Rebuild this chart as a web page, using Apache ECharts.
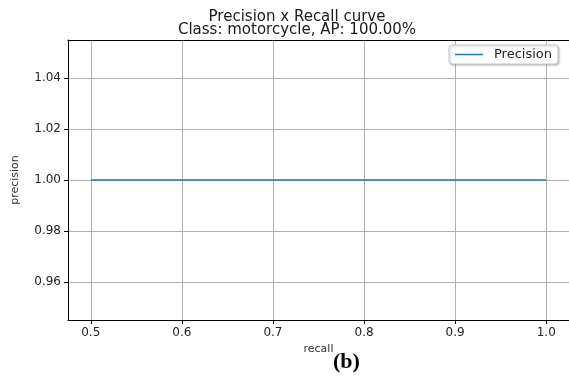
<!DOCTYPE html>
<html><head><meta charset="utf-8">
<script src="https://cdn.jsdelivr.net/npm/echarts@6/dist/echarts.min.js"></script>
<style>html,body{margin:0;padding:0;background:#fff;}#c{width:569px;height:381px;}</style>
</head><body><div id="c"></div>
<script>
const recall = [0.5, 1.0];
const precision = [1.0, 1.0];
const xTicks = [0.5, 0.6, 0.7, 0.8, 0.9, 1.0];
const yTicks = [0.96, 0.98, 1.00, 1.02, 1.04];
const seriesName = 'Precision';
const titleText = 'Precision x Recall curve\nClass: motorcycle, AP: 100.00%';
const xName = 'recall';
const yName = 'precision';
const caption = '(b)';

const chart = echarts.init(document.getElementById('c'), null, {renderer: 'canvas'});
const font = 'DejaVu Sans';
const tickColor = '#222';
const lineColor = '#1f77b4';
const axisCommon = {
  axisLine: {show: true, onZero: false, lineStyle: {color: '#000', width: 1}},
  splitLine: {show: true, lineStyle: {color: '#b0b0b0', width: 1}}
};
chart.setOption({
  animation: false,
  backgroundColor: '#fff',
  title: {
    text: titleText, left: 292, top: 6, textAlign: 'center',
    textStyle: {fontFamily: font, fontSize: 15, fontWeight: 'normal', lineHeight: 13, color: '#1a1a1a'}
  },
  grid: {left: 68, top: 40, width: 503, height: 280},
  legend: {
    data: [{name: seriesName, icon: 'rect', itemStyle: {color: lineColor}}], right: 11, top: 45, orient: 'vertical',
    backgroundColor: '#fff', borderColor: '#ccc', borderWidth: 1, borderRadius: 3,
    padding: [3, 6, 3, 6], itemWidth: 28, itemHeight: 1.5, itemGap: 4,
    shadowColor: 'rgba(0,0,0,0.25)', shadowBlur: 2, shadowOffsetX: 1, shadowOffsetY: 1,
    textStyle: {fontFamily: font, fontSize: 13, color: '#222', padding: [0, 0, 0, 6]}
  },
  xAxis: [{
    type: 'value', min: 0.475, max: 1.025,
    name: xName, nameLocation: 'middle', nameGap: 23,
    nameTextStyle: {fontFamily: font, fontSize: 11, color: '#333'},
    axisLine: axisCommon.axisLine,
    axisTick: {show: true, length: 4, customValues: xTicks, lineStyle: {color: '#000'}},
    axisLabel: {customValues: xTicks, fontFamily: font, fontSize: 12, color: tickColor, margin: 7,
      formatter: v => v.toFixed(1)},
    splitLine: axisCommon.splitLine
  }, {
    type: 'value', min: 0.475, max: 1.025, position: 'top',
    axisLine: {show: true, onZero: false, lineStyle: {color: '#000', width: 1}},
    axisTick: {show: false}, axisLabel: {show: false}, splitLine: {show: false}
  }],
  yAxis: {
    type: 'value', min: 0.945, max: 1.055,
    name: yName, nameLocation: 'middle', nameGap: 47, nameRotate: 90,
    nameTextStyle: {fontFamily: font, fontSize: 11, color: '#333'},
    axisLine: axisCommon.axisLine,
    axisTick: {show: true, length: 4, customValues: yTicks, lineStyle: {color: '#000'}},
    axisLabel: {customValues: yTicks, fontFamily: font, fontSize: 12, color: tickColor, margin: 7,
      formatter: v => v.toFixed(2)},
    splitLine: axisCommon.splitLine
  },
  graphic: [{
    type: 'text', left: 333, top: 351,
    style: {text: caption, font: 'bold 22px "Liberation Serif"', fill: '#000', textAlign: 'center'}
  }],
  series: [{
    name: seriesName, type: 'line', showSymbol: false, symbol: 'none',
    data: recall.map((r, i) => [r, precision[i]]),
    lineStyle: {color: lineColor, width: 1.5}, itemStyle: {color: lineColor}
  }]
});
</script></body></html>
